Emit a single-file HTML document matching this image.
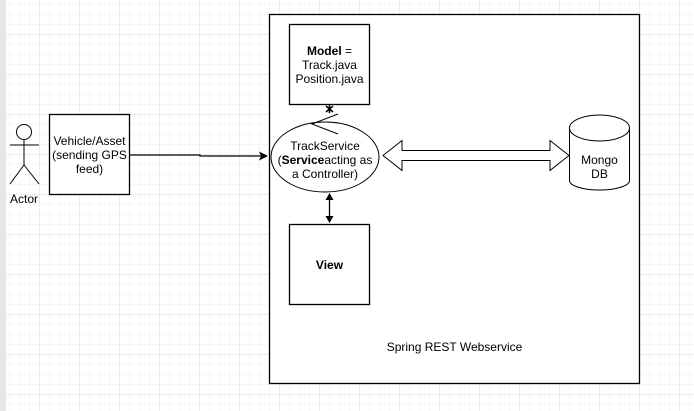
<!DOCTYPE html>
<html><head><style>
html,body{margin:0;padding:0;}
body{width:694px;height:411px;overflow:hidden;background:#fff;position:relative;font-family:"Liberation Sans",sans-serif;}
.grid{position:absolute;left:0;top:0;width:694px;height:411px;
background-image:linear-gradient(#ececec 1px,transparent 1px),linear-gradient(90deg,#ececec 1px,transparent 1px),linear-gradient(#f6f6f6 1px,transparent 1px),linear-gradient(90deg,#f6f6f6 1px,transparent 1px);
background-size:40px 40px,40px 40px,10px 10px,10px 10px;background-position:-1px -6px,-1px -6px,-1px -6px,-1px -6px;}
.strip{position:absolute;left:0;top:0;width:6px;height:411px;background:#e6e6e6;}
</style></head><body>
<div class="grid"></div><div class="strip"></div>
<svg width="694" height="411" style="position:absolute;left:0;top:0" font-family="Liberation Sans, sans-serif" font-size="12">
<rect x="269.5" y="14.5" width="370" height="369" fill="#fff" stroke="#000" stroke-width="1.3"/>
<rect x="289.5" y="24.5" width="80" height="80" fill="#fff" stroke="#000" stroke-width="1.3"/>
<text x="329.5" y="55" text-anchor="middle"><tspan font-weight="bold">Model</tspan> =</text>
<text x="329.5" y="69" text-anchor="middle">Track.java</text>
<text x="329.5" y="83" text-anchor="middle">Position.java</text>
<rect x="49.5" y="114.5" width="80" height="80" fill="#fff" stroke="#000" stroke-width="1.3"/>
<text x="89.5" y="145" text-anchor="middle">Vehicle/Asset</text>
<text x="89.5" y="159" text-anchor="middle">(sending GPS</text>
<text x="89.5" y="173" text-anchor="middle">feed)</text>
<circle cx="24" cy="132" r="7.5" fill="#fff" stroke="#000"/>
<path d="M24 140V165M10 145H39M24 165L10 184M24 165L39 184" stroke="#000" fill="none"/>
<text x="24" y="203" text-anchor="middle">Actor</text>
<path d="M130 155H200V156H262" stroke="#000" fill="none" stroke-width="1.2"/>
<path d="M268 156L259 151.5L261 156L259 160.5Z" fill="#000"/>
<ellipse cx="325" cy="157" rx="54" ry="35" fill="#fff" stroke="#000"/>
<text x="325" y="150" text-anchor="middle">TrackService</text>
<text x="325" y="164" text-anchor="middle">(<tspan font-weight="bold">Service</tspan>acting as</text>
<text x="325" y="178" text-anchor="middle">a Controller)</text>
<path d="M338 114L312 124L338 134" stroke="#000" fill="none"/>
<path d="M326 106L333 112M333 106L326 112M329.5 105V113" stroke="#000" stroke-width="1.5"/>
<path d="M329.5 197V219" stroke="#000" stroke-width="1.3"/>
<path d="M329.5 193L325.5 200L333.5 200Z M329.5 223L325.5 216L333.5 216Z" fill="#000"/>
<rect x="289.5" y="224.5" width="80" height="80" fill="#fff" stroke="#000" stroke-width="1.3"/>
<text x="329.5" y="269" text-anchor="middle" font-weight="bold">View</text>
<path d="M383 155.5L402 140.5V150.5H550V140.5L569 155.5L550 170.5V160.5H402V170.5Z" fill="#fff" stroke="#000"/>
<path d="M569.5 128V180.5A30 9.5 0 0 0 629.5 180.5V128" fill="#fff" stroke="#000"/>
<ellipse cx="599.5" cy="128" rx="30" ry="13" fill="#fff" stroke="#000"/>
<text x="599.5" y="164" text-anchor="middle">Mongo</text>
<text x="599.5" y="178" text-anchor="middle">DB</text>
<text x="454.5" y="351" text-anchor="middle">Spring REST Webservice</text>
</svg>
</body></html>
